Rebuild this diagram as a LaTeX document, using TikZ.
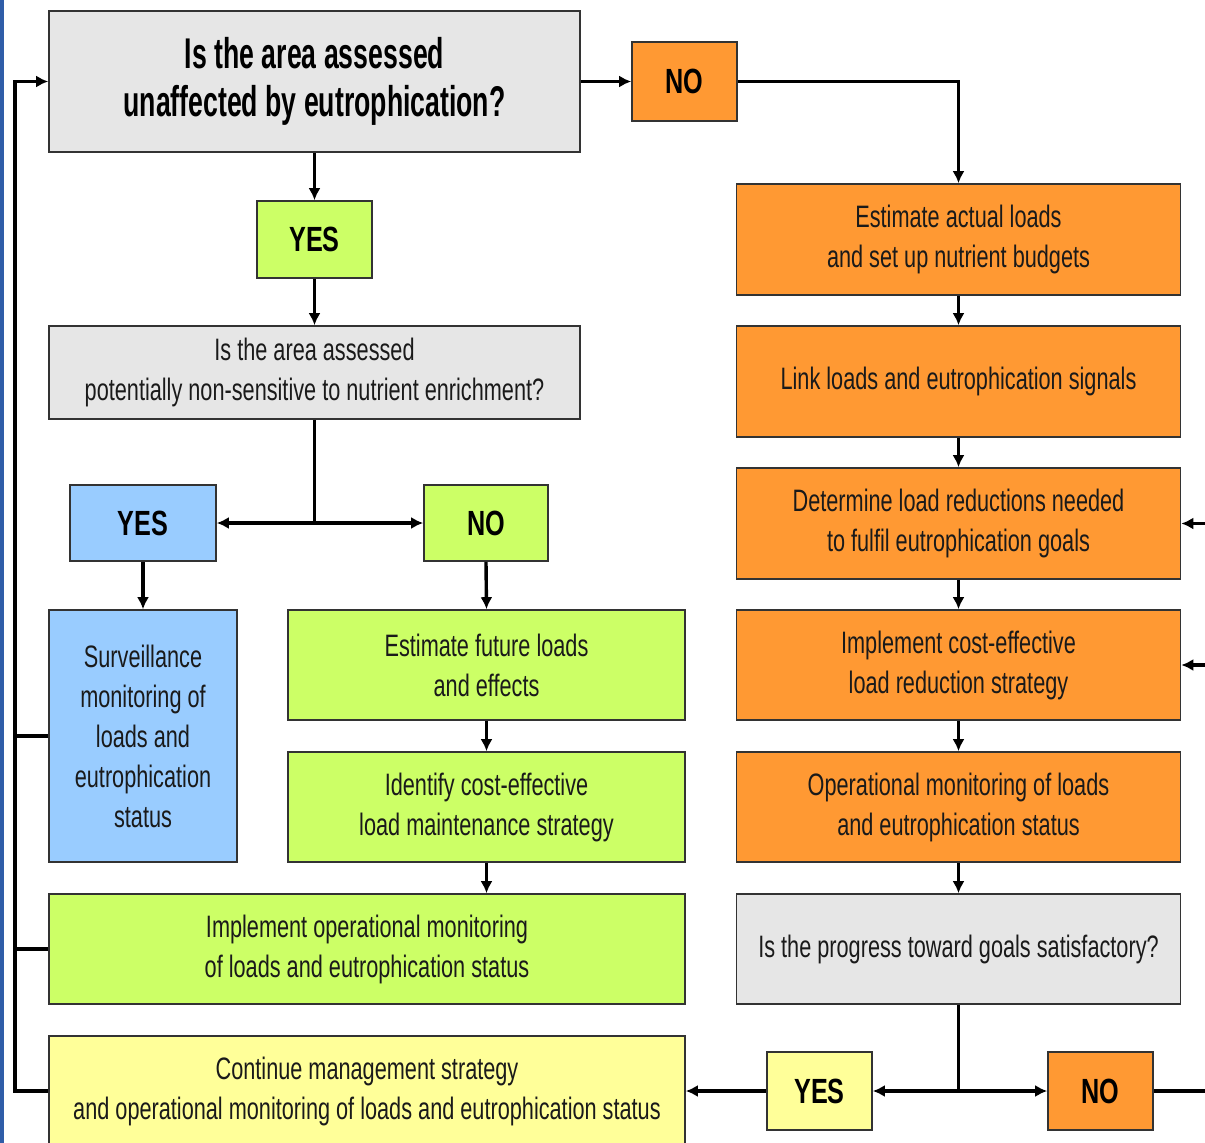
\documentclass[tikz,border=0pt]{standalone}
\usepackage{fontspec}
\setmainfont{Liberation Sans}
\newfontfamily\nfont[FakeStretch=0.7]{Liberation Sans}
\newfontfamily\tfont[FakeStretch=0.62]{Liberation Sans}
\newfontfamily\yfont[FakeStretch=0.72]{Liberation Sans}
\usetikzlibrary{arrows.meta}
\definecolor{cgray}{HTML}{E6E6E6}
\definecolor{corange}{HTML}{FF9933}
\definecolor{cgreen}{HTML}{CCFF66}
\definecolor{cblue}{HTML}{99CCFF}
\definecolor{cyellow}{HTML}{FFFF99}
\definecolor{cborder}{HTML}{333333}
\definecolor{ctext}{HTML}{1A1A1A}
\definecolor{cstrip}{HTML}{2F5DA8}
\tikzset{
  box/.style={draw=cborder, line width=1.6pt, inner sep=0pt, align=center,
    text=ctext, font={\nfont\fontsize{31}{40}\selectfont}},
  ansbox/.style={box, font={\yfont\bfseries\fontsize{35}{40}\selectfont}, text=black},
  conn/.style={line width=3.4pt, black},
  arr/.style={conn, -{Latex[length=12pt,width=12pt]}},
}
\begin{document}
\begin{tikzpicture}[x=1pt,y=-1pt]
\useasboundingbox (0,0) rectangle (1205,1143);
\clip (0,0) rectangle (1205,1143);
\fill[white] (0,0) rectangle (1205,1143);
\fill[cstrip] (0,0) rectangle (4,1143);
% left column
\node[box, fill=cgray, minimum width=531pt, minimum height=141pt,
  font={\tfont\bfseries\fontsize{43}{48}\selectfont}, text=black]
  (top) at (314.5,81.5) {Is the area assessed\\unaffected by eutrophication?};
\node[ansbox, fill=corange, minimum width=105pt, minimum height=79pt] (notop) at (684.5,81.5) {NO};
\node[ansbox, fill=cgreen, minimum width=115pt, minimum height=77pt] (yes1) at (314.5,239.5) {YES};
\node[box, fill=cgray, minimum width=531pt, minimum height=93pt] (q2) at (314.5,372.5)
  {Is the area assessed\\potentially non-sensitive to nutrient enrichment?};
\node[ansbox, fill=cblue, minimum width=146pt, minimum height=76pt] (yesb) at (143,523) {YES};
\node[ansbox, fill=cgreen, minimum width=124pt, minimum height=76pt] (nog) at (486,523) {NO};
\node[box, fill=cblue, minimum width=188pt, minimum height=252pt] (surv) at (143,736)
  {Surveillance\\monitoring of\\loads and\\eutrophication\\status};
\node[box, fill=cgreen, minimum width=397pt, minimum height=110pt] (estf) at (486.5,665)
  {Estimate future loads\\and effects};
\node[box, fill=cgreen, minimum width=397pt, minimum height=110pt] (ident) at (486.5,807)
  {Identify cost-effective\\load maintenance strategy};
\node[box, fill=cgreen, minimum width=636pt, minimum height=110pt] (implop) at (367,949)
  {Implement operational monitoring\\of loads and eutrophication status};
\node[box, fill=cyellow, minimum width=636pt, minimum height=110pt] (cont) at (367,1091)
  {Continue management strategy\\and operational monitoring of loads and eutrophication status};
% right column
\node[box, fill=corange, minimum width=444pt, minimum height=111pt] (esta) at (958.5,239.5)
  {Estimate actual loads\\and set up nutrient budgets};
\node[box, fill=corange, minimum width=444pt, minimum height=111pt] (link) at (958.5,381.5)
  {Link loads and eutrophication signals};
\node[box, fill=corange, minimum width=444pt, minimum height=111pt] (det) at (958.5,523.5)
  {Determine load reductions needed\\to fulfil eutrophication goals};
\node[box, fill=corange, minimum width=444pt, minimum height=110pt] (implc) at (958.5,665)
  {Implement cost-effective\\load reduction strategy};
\node[box, fill=corange, minimum width=444pt, minimum height=110pt] (opm) at (958.5,807)
  {Operational monitoring of loads\\and eutrophication status};
\node[box, fill=cgray, minimum width=444pt, minimum height=110pt] (prog) at (958.5,949)
  {Is the progress toward goals satisfactory?};
\node[ansbox, fill=cyellow, minimum width=105pt, minimum height=78pt] (yesy) at (819.5,1091) {YES};
\node[ansbox, fill=corange, minimum width=105pt, minimum height=78pt] (noo) at (1100.5,1091) {NO};
% coordinates
\coordinate (j1) at (314.5,523);
\coordinate (j2) at (958.5,1091);
\coordinate (rno) at (1206,1091);
\coordinate (rdet) at (1206,523.5);
\coordinate (rimp) at (1206,665);
\coordinate (lb) at (15,1091);
\coordinate (lt) at (15,81.5);
\coordinate (ls) at (15,736);
\coordinate (li) at (15,949);
% connectors
\draw[arr] (top.east) -- (notop.west);
\draw[arr] (notop.east) -| (esta.north);
\draw[arr] (top.south) -- (yes1.north);
\draw[arr] (yes1.south) -- (q2.north);
\draw[conn] (q2.south) -- (j1);
\draw[arr] (j1) -- (yesb.east);
\draw[arr] (j1) -- (nog.west);
\draw[arr] (yesb.south) -- (surv.north);
\draw[arr] (nog.south) -- (estf.north);
\draw[arr] (estf.south) -- (ident.north);
\draw[arr] (ident.south) -- (ident.south |- implop.north);
\draw[arr] (esta.south) -- (link.north);
\draw[arr] (link.south) -- (det.north);
\draw[arr] (det.south) -- (implc.north);
\draw[arr] (implc.south) -- (opm.north);
\draw[arr] (opm.south) -- (prog.north);
\draw[conn] (prog.south) -- (j2);
\draw[arr] (j2) -- (yesy.east);
\draw[arr] (j2) -- (noo.west);
\draw[arr] (yesy.west) -- (cont.east);
\draw[conn] (noo.east) -- (rno);
\draw[arr] (rdet) -- (det.east);
\draw[arr] (rimp) -- (implc.east);
\draw[arr] (cont.west) -- (lb) -- (lt) -- (top.west);
\draw[conn] (surv.west) -- (ls);
\draw[conn] (implop.west) -- (li);
\end{tikzpicture}
\end{document}
